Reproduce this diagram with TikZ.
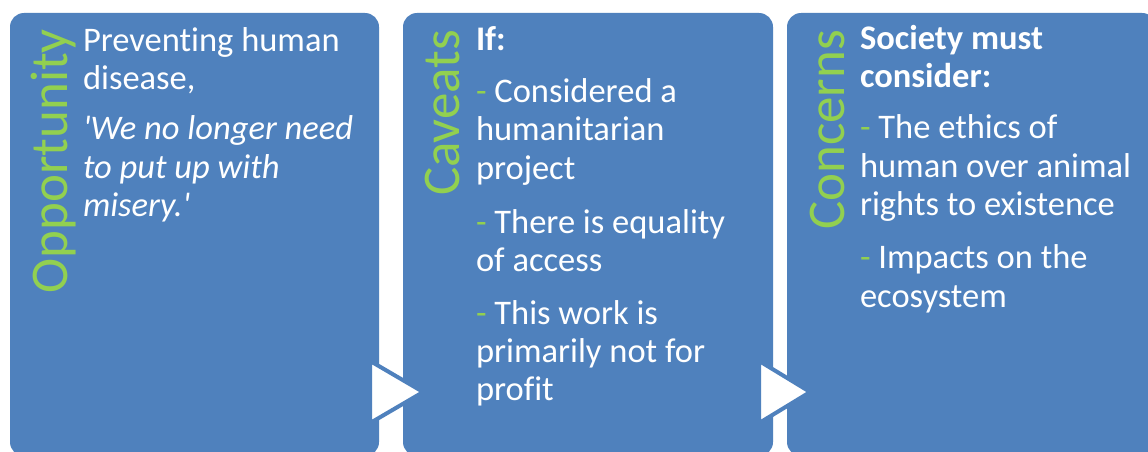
\documentclass[tikz,border=0pt]{standalone}
\usepackage{fontspec}
\setmainfont{Carlito}[Ligatures={TeX,NoCommon}]
\usepackage{tikz}
\usetikzlibrary{positioning, calc}
\usepackage{xcolor}
\definecolor{boxblue}{HTML}{4F81BD}
\definecolor{labelgreen}{HTML}{92D050}
\newcommand{\gd}{{\color{labelgreen}-}}
\newcommand{\sq}{\textquotesingle}

\begin{document}
\begin{tikzpicture}[
    x=1pt, y=1pt,
    panel/.style={rectangle, fill=boxblue, rounded corners=14pt, inner sep=0pt, minimum height=443},
    title/.style={rotate=90, anchor=base east, inner sep=0pt, text=labelgreen, font=\fontsize{53}{60}\selectfont},
    body/.style={anchor=base west, inner sep=0pt, text=white, font=\fontsize{34.5}{38.3}\selectfont},
    tri/.style={fill=white, draw=boxblue, line width=4pt, line join=miter}
]
\clip (0,0) rectangle (1148,451);
\fill[white] (0,0) rectangle (1148,451);

% Boxes
\node[panel, minimum width=369] (opp) at (194.5,216.5) {};
\node[panel, minimum width=370] (cav) at (588,216.5) {};
\node[panel, minimum width=369] (con) at (971.5,216.5) {};

% Side labels
\node[title] (oppT) at ($(opp.north west)+(58,-16)$) {Opportunity};
\node[title] (cavT) at ($(cav.north west)+(57,-17)$) {Caveats};
\node[title] (conT) at ($(con.north west)+(58,-17)$) {Concerns};

% Texts (first baseline on the node's base)
\node[body] (oppB) at ($(opp.north west)+(73,-38.5)$) {\begin{tabular}[t]{@{}l@{}}
    Preventing human\\ disease,\\[12pt]
    \itshape \sq We no longer need\\ \itshape to put up with\\ \itshape misery.\sq
    \end{tabular}};
\node[body] (cavB) at ($(cav.north west)+(73,-37.5)$) {\begin{tabular}[t]{@{}l@{}}
    \textbf{If:}\\[14pt]
    \gd{} Considered a\\ humanitarian\\ project\\[16pt]
    \gd{} There is equality\\ of access\\[14pt]
    \gd{} This work is\\ primarily not for\\ profit
    \end{tabular}};
\node[body] (conB) at ($(con.north west)+(73,-36.5)$) {\begin{tabular}[t]{@{}l@{}}
    \textbf{Society must}\\ \textbf{consider:}\\[13pt]
    \gd{} The ethics of\\ human over animal\\ rights to existence\\[15pt]
    \gd{} Impacts on the\\ ecosystem
    \end{tabular}};

% Arrows between boxes
\coordinate (a1) at ($(opp.east |- 0,59)+(-9,0)$);
\coordinate (a2) at ($(cav.east |- 0,59)+(-14,0)$);
\draw[tri] (a1) ++(0,31) -- ++(53,-31) -- ++(-53,-31) -- cycle;
\draw[tri] (a2) ++(0,31) -- ++(51,-31) -- ++(-51,-31) -- cycle;
\end{tikzpicture}
\end{document}
